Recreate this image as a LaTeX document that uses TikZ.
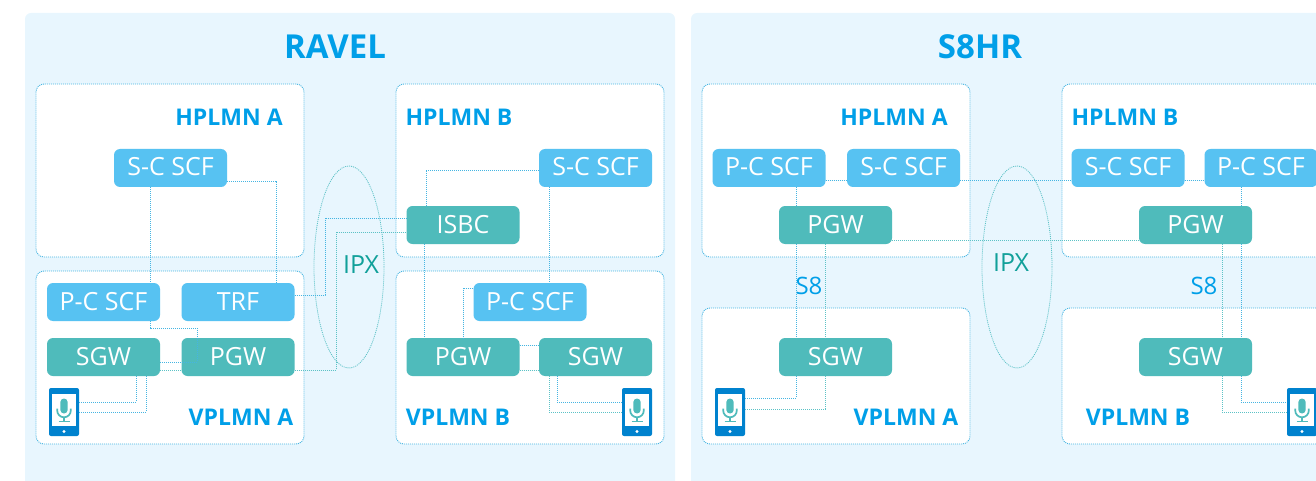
\documentclass[tikz,border=0pt]{standalone}
\usepackage{fontspec}
\setmainfont{Open Sans}
\usetikzlibrary{shapes.geometric}

\definecolor{panelbg}{HTML}{E8F6FE}
\definecolor{scfblue}{HTML}{57C2F2}
\definecolor{gwteal}{HTML}{4FBBBB}
\definecolor{titleblue}{HTML}{009FE8}
\definecolor{ipxteal}{HTML}{11A09A}
\definecolor{bluedot}{HTML}{45B5E2}
\definecolor{tealdot}{HTML}{5CC2C6}
\definecolor{phoneblue}{HTML}{0082CE}

\tikzset{
  panel/.style={fill=panelbg,rounded corners=6pt},
  frame/.style={draw=bluedot,dash pattern=on 1pt off 1pt,line width=0.9pt,fill=white,rounded corners=8pt,
    minimum width=268pt,inner sep=0pt},
  hframe/.style={frame,minimum height=173pt},
  vframe/.style={frame,minimum height=136pt},
  scf/.style={fill=scfblue,text=white,rounded corners=6pt,minimum width=113pt,minimum height=38pt,
    inner sep=0pt,font=\fontsize{25}{30}\selectfont},
  topscf/.style={scf,text depth=4pt},
  gw/.style={scf,fill=gwteal},
  title/.style={text=titleblue,font=\fontsize{33}{40}\selectfont\bfseries},
  plmn/.style={text=titleblue,inner sep=0pt,font=\fontsize{23}{28}\selectfont\bfseries},
  iface/.style={text=titleblue,inner sep=0pt,font=\fontsize{24}{28}\selectfont},
  ipx/.style={draw=tealdot,dash pattern=on 1pt off 1pt,line width=0.8pt,ellipse,minimum width=70pt,minimum height=202pt,inner sep=0pt},
  ipxlabel/.style={text=ipxteal,inner sep=0pt,font=\fontsize{25}{30}\selectfont},
  blueline/.style={draw=bluedot,dash pattern=on 1pt off 1pt,line width=0.9pt},
  tealline/.style={draw=tealdot,dash pattern=on 1pt off 1pt,line width=0.9pt},
  phonebody/.style={fill=phoneblue,rounded corners=2pt,minimum width=30pt,minimum height=48pt,inner sep=0pt}
}

% phone with microphone: name, centre x, centre y
\newcommand{\phone}[3]{
  \node[phonebody] (#1) at (#2,#3) {};
  \fill[white] (#2-12,#3-18.5) rectangle (#2+12,#3+13.5);
  \fill[white] (#2,#3+19.5) circle (1.7);
  \fill[gwteal,rounded corners=3.7pt] (#2-3.7,#3-13.5) rectangle (#2+3.7,#3+1.5);
  \draw[gwteal,line width=1.7pt] (#2-6.8,#3-3.5) -- (#2-6.8,#3-1.5)
    arc[start angle=180,end angle=0,radius=6.8] -- (#2+6.8,#3-3.5);
  \draw[gwteal,line width=1.7pt] (#2,#3+5.3) -- (#2,#3+9.5);
  \draw[gwteal,line width=1.7pt] (#2-5.5,#3+9.5) -- (#2+5.5,#3+9.5);
}

\begin{document}
\begin{tikzpicture}[x=1pt,y=-1pt]
  \clip (0,0) rectangle (1316,481);

  % Panels
  \fill[panel] (25,13) rectangle (675,500);
  \fill[panel] (691,13) rectangle (1340,500);
  \node[title] (ravel) at (335,47) {RAVEL};
  \node[title] (seight) at (980,47) {S8HR};

  % Frames
  \node[hframe] (hpa) at (170,170.5) {};
  \node[hframe] (vpa) at (170,357.5) {};
  \node[hframe] (hpb) at (530,170.5) {};
  \node[hframe] (vpb) at (530,357.5) {};
  \node[hframe] (shpa) at (836,170.5) {};
  \node[vframe] (svpa) at (836,376) {};
  \node[hframe] (shpb) at (1196,170.5) {};
  \node[vframe] (svpb) at (1196,376) {};

  \node[ipx] (ipxr) at (349,267) {};
  \node[ipx] (ipxs) at (1017,267) {};

  % Labels
  \node[plmn] (lhpa) at (229,117) {HPLMN A};
  \node[plmn] (lvpa) at (241,417) {VPLMN A};
  \node[plmn] (lhpb) at (459,117) {HPLMN B};
  \node[plmn] (lvpb) at (458,417) {VPLMN B};
  \node[plmn] (lshpa) at (894,117) {HPLMN A};
  \node[plmn] (lsvpa) at (906,417) {VPLMN A};
  \node[plmn] (lshpb) at (1125,117) {HPLMN B};
  \node[plmn] (lsvpb) at (1138,417) {VPLMN B};
  \node[ipxlabel] (lipxr) at (361,265) {IPX};
  \node[ipxlabel] (lipxs) at (1011,263) {IPX};
  \node[iface] (sa) at (809,286) {S8};
  \node[iface] (sb) at (1204,286) {S8};

  % RAVEL boxes
  \node[topscf] (sscfa) at (170.5,168) {S-C SCF};
  \node[scf] (pscfa) at (103.5,302) {P-C SCF};
  \node[scf] (trfa) at (238,302) {TRF};
  \node[gw] (sgwa) at (103.5,357) {SGW};
  \node[gw] (pgwa) at (238,357) {PGW};
  \node[topscf] (sscfb) at (595.5,168) {S-C SCF};
  \node[gw] (isbcb) at (463,225) {ISBC};
  \node[scf] (pscfb) at (530,302) {P-C SCF};
  \node[gw] (pgwb) at (463,357) {PGW};
  \node[gw] (sgwb) at (595.5,357) {SGW};
  \phone{phonea}{64}{412}
  \phone{phoneb}{637}{412}

  % S8HR boxes
  \node[topscf] (spscfa) at (769,168) {P-C SCF};
  \node[topscf] (ssscfa) at (903.5,168) {S-C SCF};
  \node[gw] (spgwa) at (835.5,225) {PGW};
  \node[gw] (ssgwa) at (835.5,357) {SGW};
  \node[topscf] (ssscfb) at (1128,168) {S-C SCF};
  \node[topscf] (spscfb) at (1261,168) {P-C SCF};
  \node[gw] (spgwb) at (1195.5,225) {PGW};
  \node[gw] (ssgwb) at (1195.5,357) {SGW};
  \phone{sphonea}{730}{412}
  \phone{sphoneb}{1302}{412}

  % RAVEL connectors
  \draw[blueline] (sscfa.south -| 150,0) -- (pscfa.north -| 150,0);
  \draw[blueline] (sscfa.east |- 0,181) -| (trfa.north -| 276,0);
  \draw[blueline] (pscfa.south -| 150,0) |- (197,328) |- (sgwa.east |- 0,362);
  \draw[tealline] (sgwa.east |- 0,370) -- (pgwa.west |- 0,370);
  \draw[blueline] (sgwa.south -| 136,0) |- (phonea.east |- 0,402);
  \draw[blueline] (sgwa.south -| 146,0) |- (phonea.east |- 0,412);
  \draw[blueline] (trfa.east |- 0,295) -| (325,218) -- (isbcb.west |- 0,218);
  \draw[tealline] (pgwa.east |- 0,370) -| (336,232) -- (isbcb.west |- 0,232);
  \draw[blueline] (isbcb.south -| 424,0) -- (pgwb.north -| 424,0);
  \draw[blueline] (isbcb.north -| 426,0) |- (sscfb.west |- 0,170);
  \draw[blueline] (sscfb.south -| 549,0) -- (pscfb.north -| 549,0);
  \draw[blueline] (pscfb.west |- 0,288) -| (pgwb.north -| 463,0);
  \draw[blueline] (pgwb.east |- 0,345) -- (sgwb.west |- 0,345);
  \draw[tealline] (pgwb.east |- 0,370) -- (sgwb.west |- 0,370);
  \draw[blueline] (sgwb.south -| 557,0) |- (phoneb.west |- 0,402);
  \draw[tealline] (sgwb.south -| 549,0) |- (phoneb.west |- 0,412);

  % S8HR connectors
  \draw[blueline] (spscfa.east |- 0,180) -- (ssscfa.west |- 0,180);
  \draw[blueline] (ssscfa.east |- 0,180) -- (ssscfb.west |- 0,180);
  \draw[blueline] (ssscfb.east |- 0,180) -- (spscfb.west |- 0,180);
  \draw[blueline] (spscfa.south -| 796,0) -- (spgwa.north -| 796,0);
  \draw[tealline] (spgwa.east |- 0,240) -- (spgwb.west |- 0,240);
  \draw[blueline] (spgwa.south -| 796,0) -- (ssgwa.north -| 796,0);
  \draw[tealline] (spgwa.south -| 825,0) -- (ssgwa.north -| 825,0);
  \draw[blueline] (ssgwa.south -| 796,0) |- (sphonea.east |- 0,398);
  \draw[tealline] (ssgwa.south -| 825,0) |- (sphonea.east |- 0,409);
  \draw[blueline] (spscfb.south -| 1241,0) -- (spgwb.north -| 1241,0);
  \draw[blueline] (spgwb.south -| 1241,0) -- (ssgwb.north -| 1241,0);
  \draw[tealline] (spgwb.south -| 1222,0) -- (ssgwb.north -| 1222,0);
  \draw[blueline] (ssgwb.south -| 1241,0) |- (sphoneb.west |- 0,402);
  \draw[tealline] (ssgwb.south -| 1222,0) |- (sphoneb.west |- 0,412);
\end{tikzpicture}
\end{document}
